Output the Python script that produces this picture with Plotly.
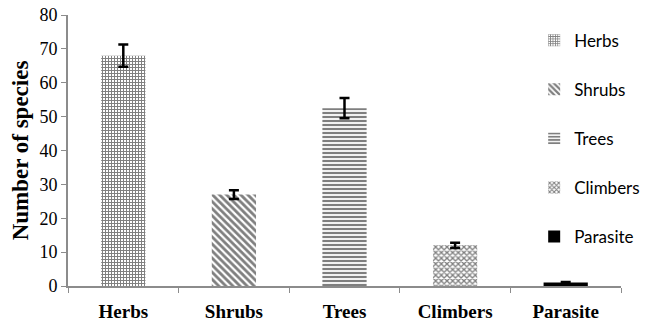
import plotly.graph_objects as go

categories = ["Herbs", "Shrubs", "Trees", "Climbers", "Parasite"]
values = [68, 27, 52.5, 12, 1]
errors = [3.3, 1.3, 3.0, 0.8, 0.2]
patterns = ["+", "\\", "-", "x", ""]
colors = ["white", "white", "white", "white", "black"]
sizes = [3, 5, 4, 4, 4]

fig = go.Figure()
for i, c in enumerate(categories):
    fig.add_trace(go.Bar(
        x=[c], y=[values[i]], name=c, width=0.4,
        marker=dict(color=colors[i], line=dict(width=0),
                    pattern=dict(shape=patterns[i], fgcolor="black",
                                 bgcolor="white", size=sizes[i], solidity=0.55)),
        error_y=dict(type="data", array=[errors[i]], color="black",
                     thickness=2.5, width=5),
        legendgroup=c,
    ))

fig.update_layout(
    width=657, height=327,
    margin=dict(l=68, r=34, t=15, b=41),
    plot_bgcolor="white", paper_bgcolor="white",
    barmode="overlay",
    showlegend=True,
    legend=dict(x=0.843, y=0.972, xanchor="left", yanchor="top",
                font=dict(family="Lato", size=17, color="black"),
                tracegroupgap=24, itemwidth=30, bgcolor="rgba(0,0,0,0)",
                maxheight=320),
    xaxis=dict(
        showline=True, linecolor="#8c8c8c", linewidth=2,
        ticks="outside", tickson="boundaries", tickcolor="#8c8c8c", ticklen=5,
        tickfont=dict(family="Liberation Serif", size=19, color="black",
                      weight="bold"),
        showgrid=False, ticklabelstandoff=7, automargin=False,
    ),
    yaxis=dict(
        range=[0, 80], dtick=10,
        showline=True, linecolor="#8c8c8c", linewidth=2,
        ticks="outside", tickcolor="#8c8c8c", ticklen=5,
        tickfont=dict(family="Liberation Serif", size=18, color="black"),
        showgrid=False, zeroline=False, automargin="left",
        title=dict(text="Number of species", standoff=4,
                   font=dict(family="Liberation Serif", size=23,
                             color="black", weight="bold")),
    ),
)

fig.write_html("out.html", config={"displayModeBar": False},
               post_script="document.body.style.margin='0';document.body.style.overflow='hidden';")
